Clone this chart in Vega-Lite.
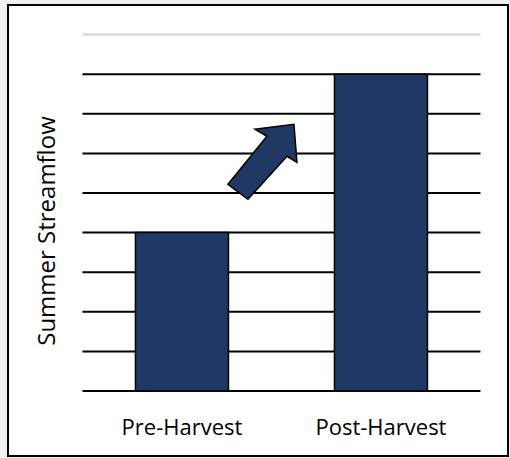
{
  "$schema": "https://vega.github.io/schema/vega-lite/v6.json",
  "width": 500,
  "height": 451,
  "autosize": {"type": "none"},
  "padding": {"left": 8, "top": 5, "right": 2, "bottom": 2},
  "background": "#f0f0f0",
  "config": {
    "view": {"fill": "white", "stroke": "black", "strokeWidth": 2},
    "font": "Open Sans"
  },
  "datasets": {
    "flow": [
      {"period": "Pre-Harvest", "streamflow": 4},
      {"period": "Post-Harvest", "streamflow": 8}
    ],
    "levels": [
      {"level": 0}, {"level": 1}, {"level": 2}, {"level": 3}, {"level": 4},
      {"level": 5}, {"level": 6}, {"level": 7}, {"level": 8}, {"level": 9}
    ],
    "change": [
      {"period": "Pre-Harvest", "streamflow": 5.8}
    ]
  },
  "layer": [
    {
      "data": {"name": "levels"},
      "mark": {"type": "rule"},
      "encoding": {
        "x": {"datum": "Pre-Harvest", "type": "nominal", "bandPosition": 0},
        "x2": {"datum": "Post-Harvest", "bandPosition": 1},
        "y": {
          "field": "level",
          "type": "quantitative",
          "scale": {"domain": [-1.641, 9.747], "nice": false, "zero": false},
          "axis": {
            "title": "Summer Streamflow",
            "orient": "left",
            "offset": -51,
            "labels": false,
            "ticks": false,
            "domain": false,
            "grid": false,
            "titlePadding": 0,
            "titleFontSize": 24,
            "titleFontWeight": "normal",
            "titleColor": "black"
          }
        },
        "stroke": {
          "condition": {"test": "datum.level == 9", "value": "#d9d9d9"},
          "value": "black"
        },
        "strokeWidth": {
          "condition": {"test": "datum.level == 9", "value": 2.5},
          "value": 2
        }
      }
    },
    {
      "data": {"name": "flow"},
      "mark": {"type": "bar", "size": 93, "fill": "#203864", "stroke": "black", "strokeWidth": 1.5},
      "encoding": {
        "x": {
          "field": "period",
          "type": "nominal",
          "scale": {
            "domain": ["Pre-Harvest", "Post-Harvest"],
            "paddingInner": 0,
            "paddingOuter": 0.2563,
            "align": 0.73
          },
          "axis": {
            "title": null,
            "orient": "bottom",
            "offset": -65,
            "bandPosition": 0.5,
            "domain": false,
            "ticks": false,
            "grid": false,
            "labelAngle": 0,
            "labelAlign": "center",
            "labelPadding": 36,
            "labelFontSize": 22,
            "labelColor": "black"
          }
        },
        "y": {"field": "streamflow", "type": "quantitative"}
      }
    },
    {
      "data": {"name": "change"},
      "mark": {
        "type": "point",
        "shape": "M-0.907,0.613L0.133,-0.667L-0.187,-0.853L0.853,-0.987L0.933,0.027L0.667,-0.133L-0.373,1.013Z",
        "size": 5625,
        "filled": true,
        "fill": "#203864",
        "stroke": "black",
        "strokeWidth": 1.5,
        "opacity": 1
      },
      "encoding": {
        "x": {"field": "period", "type": "nominal", "bandPosition": 0.902},
        "y": {"field": "streamflow", "type": "quantitative"}
      }
    }
  ]
}
